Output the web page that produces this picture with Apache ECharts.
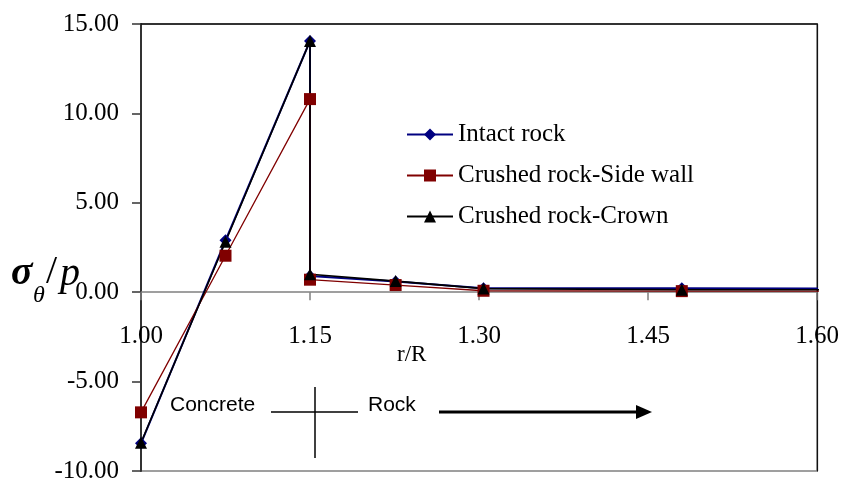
<!DOCTYPE html>
<html>
<head>
<meta charset="utf-8">
<script src="https://cdn.jsdelivr.net/npm/echarts@6/dist/echarts.min.js"></script>
<style>
  html, body { margin: 0; padding: 0; background: #fff; }
  #chart { width: 845px; height: 484px; }
</style>
</head>
<body>
<div id="chart"></div>
<script>
// Radial positions r/R (the two entries at 1.15 are the concrete/rock interface)
const rR = [1.0, 1.075, 1.15, 1.15, 1.226, 1.304, 1.48, 2.0];

// Normalised hoop stress sigma_theta / p for each case
const intactRock = [-8.45, 2.90, 14.05, 0.90, 0.60, 0.22, 0.22, 0.18];
const crushedSideWall = [-6.72, 2.04, 10.80, 0.70, 0.40, 0.08, 0.06, 0.05];
const crushedCrown = [-8.42, 2.82, 14.05, 1.00, 0.62, 0.20, 0.14, 0.12];

const seriesNames = ['Intact rock', 'Crushed rock-Side wall', 'Crushed rock-Crown'];

// Axis ranges
const xMin = 1.0, xMax = 1.6, xStep = 0.15;
const yMin = -10, yMax = 15, yStep = 5;

const pairs = (ys) => rR.map((x, i) => [x, ys[i]]);

const serif = '"Liberation Serif", "Times New Roman", serif';
const sans = '"Liberation Sans", Arial, sans-serif';

// Plot box
const gridLeft = 141, gridRight = 28, gridTop = 24, gridBottom = 13;
const plotHeight = 484 - gridTop - gridBottom;
// The r/R axis crosses the stress axis at zero
const zeroOffset = -plotHeight * (0 - yMin) / (yMax - yMin);

const chart = echarts.init(document.getElementById('chart'), null, { renderer: 'canvas' });

const lineSeries = (name, ys, color, symbol, size, width) => ({
  name: name,
  type: 'line',
  data: pairs(ys),
  symbol: symbol,
  symbolSize: size,
  clip: true,
  animation: false,
  lineStyle: { color: color, width: width },
  itemStyle: { color: color, borderWidth: 0 },
  emphasis: { disabled: true }
});

chart.setOption({
  backgroundColor: '#fff',
  animation: false,
  grid: {
    left: gridLeft, right: gridRight, top: gridTop, bottom: gridBottom,
    outerBoundsMode: 'none', containLabel: false,
    show: true, borderColor: '#808080', borderWidth: 1.5,
    backgroundColor: 'transparent'
  },
  legend: {
    orient: 'vertical',
    left: 401, top: 117,
    itemWidth: 46, itemHeight: 15,
    itemGap: 16,
    textStyle: { fontFamily: serif, fontSize: 25, color: '#000' },
    data: seriesNames
  },
  xAxis: [{
    type: 'value',
    position: 'bottom',
    offset: zeroOffset,
    min: xMin, max: xMax, interval: xStep,
    axisLine: { onZero: false, lineStyle: { color: '#808080', width: 1.5 } },
    axisTick: { show: true, inside: false, length: 8, lineStyle: { color: '#808080', width: 1.5 } },
    axisLabel: {
      margin: 32,
      fontFamily: serif, fontSize: 25, color: '#000',
      formatter: (v) => v.toFixed(2)
    },
    splitLine: { show: false }
  }, {
    type: 'value', position: 'top',
    min: xMin, max: xMax,
    axisLine: { show: true, onZero: false, lineStyle: { color: '#111', width: 1.5 } },
    axisTick: { show: false }, axisLabel: { show: false }, splitLine: { show: false }
  }],
  yAxis: [{
    type: 'value',
    min: yMin, max: yMax, interval: yStep,
    axisLine: { show: true, onZero: false, lineStyle: { color: '#333', width: 2 } },
    axisTick: { show: true, inside: false, length: 9, lineStyle: { color: '#333', width: 1.5 } },
    axisLabel: {
      margin: 22,
      fontFamily: serif, fontSize: 25, color: '#000',
      formatter: (v) => v.toFixed(2)
    },
    splitLine: { show: false }
  }, {
    type: 'value', position: 'right',
    min: yMin, max: yMax,
    axisLine: { show: true, onZero: false, lineStyle: { color: '#111', width: 1.2 } },
    axisTick: { show: false }, axisLabel: { show: false }, splitLine: { show: false }
  }],
  series: [
    lineSeries(seriesNames[0], intactRock, '#000080', 'diamond', 12, 2),
    lineSeries(seriesNames[1], crushedSideWall, '#800000', 'rect', 12, 1.3),
    lineSeries(seriesNames[2], crushedCrown, '#000000', 'triangle', 12, 1.6)
  ],
  graphic: [
    // axis titles
    { type: 'text', x: 397, y: 355, silent: true,
      style: { text: 'r/R', font: '23px ' + serif, fill: '#000', align: 'left', verticalAlign: 'middle' } },
    { type: 'text', x: 11, y: 274, silent: true,
      style: { text: 'σ', font: 'italic bold 40px ' + serif, fill: '#000', align: 'left', verticalAlign: 'middle' } },
    { type: 'text', x: 33, y: 296, silent: true,
      style: { text: 'θ', font: 'italic 24px ' + serif, fill: '#000', align: 'left', verticalAlign: 'middle' } },
    { type: 'text', x: 46, y: 272, silent: true,
      style: { text: '/', font: '40px ' + serif, fill: '#000', align: 'left', verticalAlign: 'middle' } },
    { type: 'text', x: 60, y: 274, silent: true,
      style: { text: 'p', font: 'italic 40px ' + serif, fill: '#000', align: 'left', verticalAlign: 'middle' } },
    // concrete / rock annotation
    { type: 'text', x: 170, y: 405, silent: true,
      style: { text: 'Concrete', font: '21px ' + sans, fill: '#000', align: 'left', verticalAlign: 'middle' } },
    { type: 'line', silent: true, shape: { x1: 271, y1: 412, x2: 358, y2: 412 },
      style: { stroke: '#000', lineWidth: 1.5 } },
    { type: 'line', silent: true, shape: { x1: 315, y1: 387, x2: 315, y2: 458 },
      style: { stroke: '#000', lineWidth: 1.5 } },
    { type: 'text', x: 368, y: 405, silent: true,
      style: { text: 'Rock', font: '21px ' + sans, fill: '#000', align: 'left', verticalAlign: 'middle' } },
    { type: 'line', silent: true, shape: { x1: 439, y1: 412, x2: 640, y2: 412 },
      style: { stroke: '#000', lineWidth: 3.2 } },
    { type: 'polygon', silent: true, shape: { points: [[636, 405], [652, 412], [636, 419]] },
      style: { fill: '#000' } }
  ]
});
</script>
</body>
</html>
